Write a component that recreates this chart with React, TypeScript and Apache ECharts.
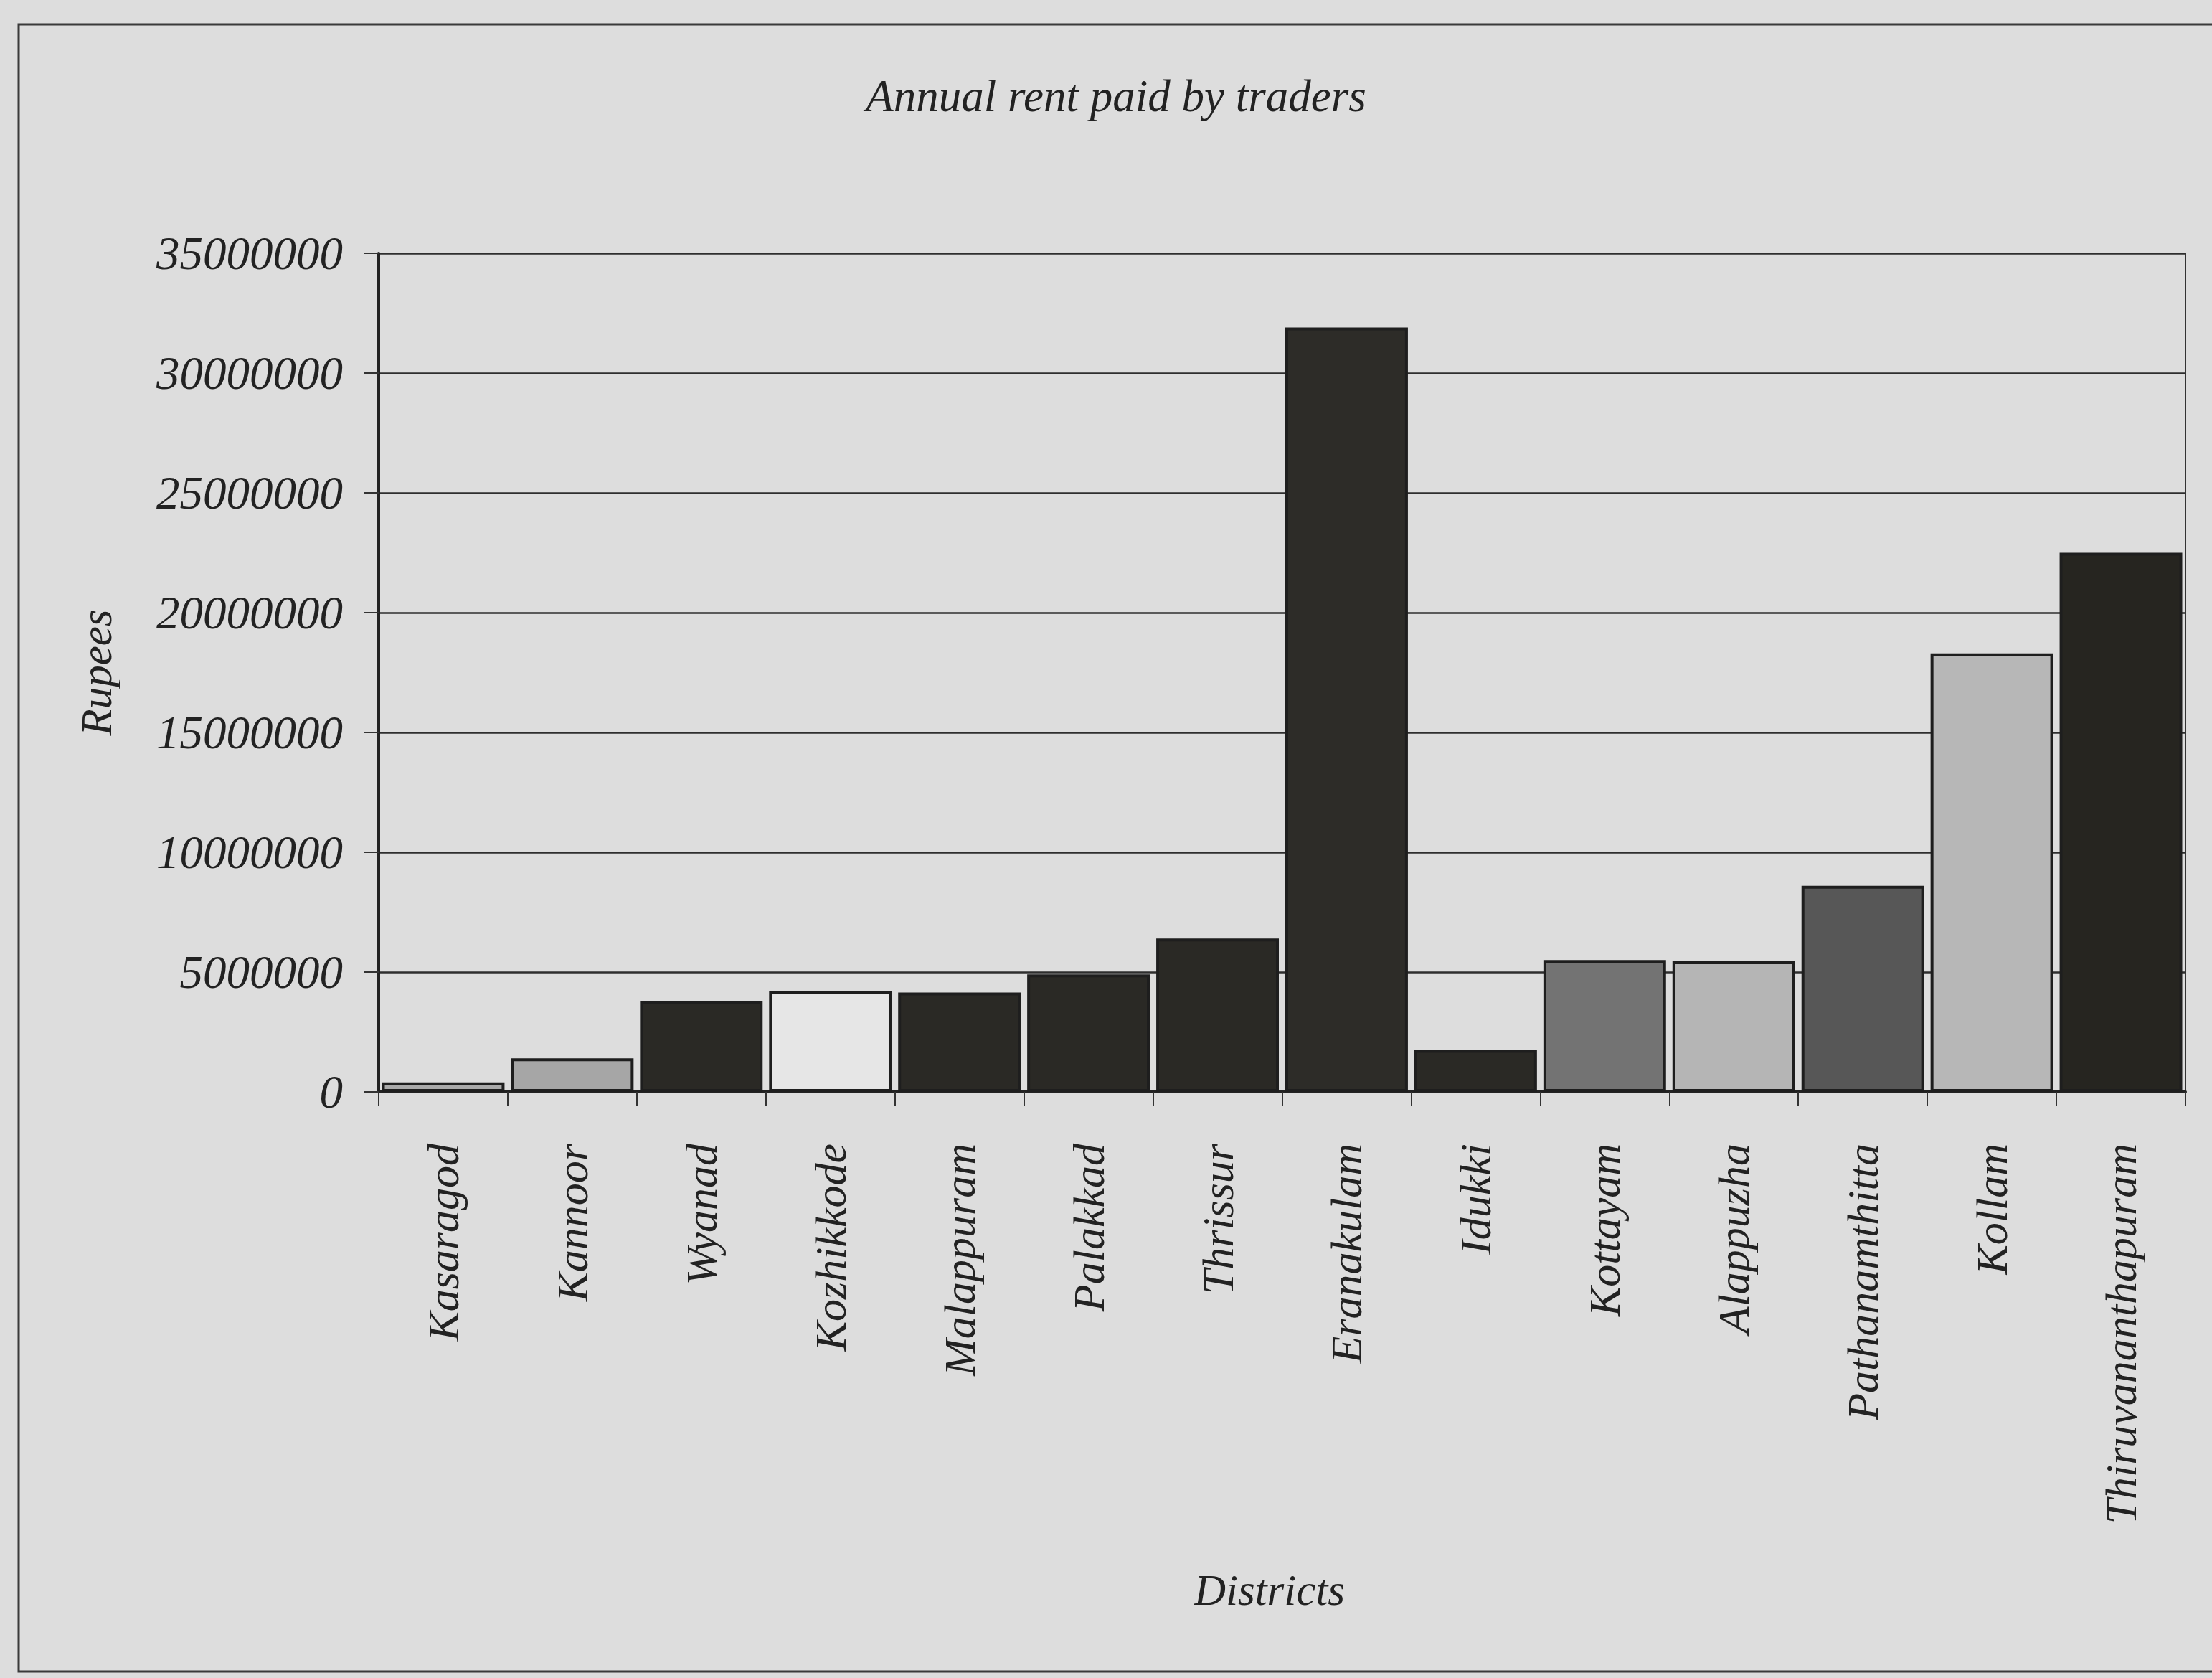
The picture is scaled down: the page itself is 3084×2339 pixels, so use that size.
import React, { useEffect, useRef } from "react";
import * as echarts from "echarts";

const districts = [
  "Kasaragod",
  "Kannoor",
  "Wyanad",
  "Kozhikkode",
  "Malappuram",
  "Palakkad",
  "Thrissur",
  "Eranakulam",
  "Idukki",
  "Kottayam",
  "Alappuzha",
  "Pathanamthitta",
  "Kollam",
  "Thiruvananthapuram",
];

const annualRent = [
  400000, 1400000, 3800000, 4200000, 4150000, 4900000, 6400000, 31900000,
  1750000, 5500000, 5450000, 8600000, 18300000, 22500000,
];

const barColors = [
  "#a9a9a9", "#a6a6a6", "#2a2925", "#e6e6e6", "#2a2925", "#2a2925", "#2a2925",
  "#2d2c28", "#2a2925", "#737373", "#b5b5b5", "#575757", "#b7b7b7", "#262520",
];

const yTicks = [0, 5000000, 10000000, 15000000, 20000000, 25000000, 30000000, 35000000];

const FONT = "Liberation Serif";
const INK = "#222222";

export default function App() {
  const ref = useRef<HTMLDivElement>(null);

  useEffect(() => {
    document.body.style.margin = "0";
    const chart = echarts.init(ref.current!, undefined, { renderer: "svg" });
    chart.setOption({
      animation: false,
      backgroundColor: "#dddddd",
      grid: { left: 528, right: 37, top: 353, bottom: 817, show: true, borderColor: "#333333", borderWidth: 2 },
      graphic: [
        {
          type: "rect",
          shape: { x: 26, y: 34, width: 3100, height: 2296 },
          style: { fill: "none", stroke: "#3a3a3a", lineWidth: 3 },
          silent: true,
        },
        {
          type: "text",
          x: 1556,
          y: 134,
          style: {
            text: "Annual rent paid by traders",
            font: `italic 63px "${FONT}"`,
            fill: INK,
            textAlign: "center",
            textVerticalAlign: "middle",
          },
        },
        {
          type: "text",
          x: 1770,
          y: 2216,
          style: {
            text: "Districts",
            font: `italic 61px "${FONT}"`,
            fill: INK,
            textAlign: "center",
            textVerticalAlign: "middle",
          },
        },
      ],
      xAxis: {
        type: "category",
        data: districts,
        axisLine: { lineStyle: { color: "#222", width: 4 } },
        axisTick: { show: true, length: 20, lineStyle: { color: "#333", width: 2 } },
        axisLabel: {
          rotate: 90,
          interval: 0,
          margin: 72,
          fontFamily: FONT,
          fontStyle: "italic",
          fontSize: 62,
          color: INK,
        },
      },
      yAxis: {
        type: "value",
        min: 0,
        max: 35000000,
        interval: 5000000,
        name: "Rupees",
        nameLocation: "middle",
        nameGap: 394,
        nameTextStyle: { fontFamily: FONT, fontStyle: "italic", fontSize: 61, color: INK, verticalAlign: "middle" },
        axisLine: { show: true, lineStyle: { color: "#222", width: 4 } },
        axisTick: { show: true, length: 20, lineStyle: { color: "#333", width: 2 } },
        splitLine: { show: true, lineStyle: { color: "#2e2e2e", width: 2.5 } },
        axisLabel: {
          margin: 50,
          fontFamily: FONT,
          fontStyle: "italic",
          fontSize: 65,
          color: INK,
          formatter: (v: number) => (yTicks.includes(v) ? String(v) : ""),
        },
      },
      series: [
        {
          type: "bar",
          barCategoryGap: "5%",
          data: annualRent.map((v, i) => ({
            value: v,
            itemStyle: { color: barColors[i], borderColor: "#1e1e1e", borderWidth: 4 },
          })),
        },
      ],
    });
    return () => chart.dispose();
  }, []);

  return <div ref={ref} style={{ width: 3084, height: 2339 }} />;
}
